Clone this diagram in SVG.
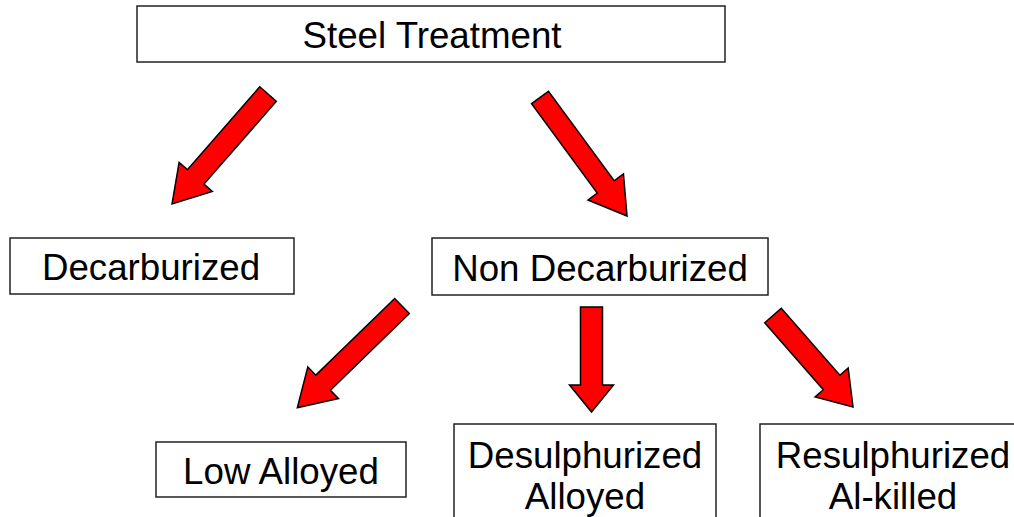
<svg xmlns="http://www.w3.org/2000/svg" width="1014" height="517" viewBox="0 0 1014 517">
<style>
.box{fill:#fff;stroke:#222;stroke-width:1.5}
.t{font-family:"Liberation Sans",Arial,sans-serif;font-size:36.7px;fill:#000;text-anchor:middle}
.arr{fill:#ff0000;stroke:#000;stroke-width:1.5;stroke-linejoin:miter}
</style>
<rect width="1014" height="517" fill="#fff"/>
<g id="connectors">
<polygon class="arr" transform="translate(268,94) rotate(41.1)" points="-11,0 11,0 11,110 22,110 0,146 -22,110 -11,110"/>
<polygon class="arr" transform="translate(540,97.5) rotate(-36.3)" points="-10.5,0 10.5,0 10.5,111 22,111 0,147 -22,111 -10.5,111"/>
<polygon class="arr" transform="translate(402,306) rotate(45.8)" points="-10.5,0 10.5,0 10.5,110 22,110 0,146 -22,110 -10.5,110"/>
<polygon class="arr" transform="translate(591.5,307) rotate(0)" points="-11,0 11,0 11,78 22,78 0,105 -22,78 -11,78"/>
<polygon class="arr" transform="translate(773,315.5) rotate(-41.2)" points="-11,0 11,0 11,89 22,89 0,121.5 -22,89 -11,89"/>
</g>
<g id="steel-treatment"><rect class="box" x="137" y="6" width="588" height="56"/><text class="t" x="432" y="47.5">Steel Treatment</text></g>
<g id="decarburized"><rect class="box" x="10" y="238" width="284" height="56"/><text class="t" x="151" y="279.5">Decarburized</text></g>
<g id="non-decarburized"><rect class="box" x="432" y="238" width="336" height="57"/><text class="t" x="600" y="280.5">Non Decarburized</text></g>
<g id="low-alloyed"><rect class="box" x="156" y="442" width="250" height="55"/><text class="t" x="281" y="483.5">Low Alloyed</text></g>
<g id="desulphurized-alloyed"><rect class="box" x="454" y="424" width="262" height="110"/><text class="t" x="585" y="467.5">Desulphurized</text><text class="t" x="585" y="508.5">Alloyed</text></g>
<g id="resulphurized-al-killed"><rect class="box" x="760" y="424" width="270" height="110"/><text class="t" x="893" y="467.5">Resulphurized</text><text class="t" x="893" y="508.5">Al-killed</text></g>
</svg>
